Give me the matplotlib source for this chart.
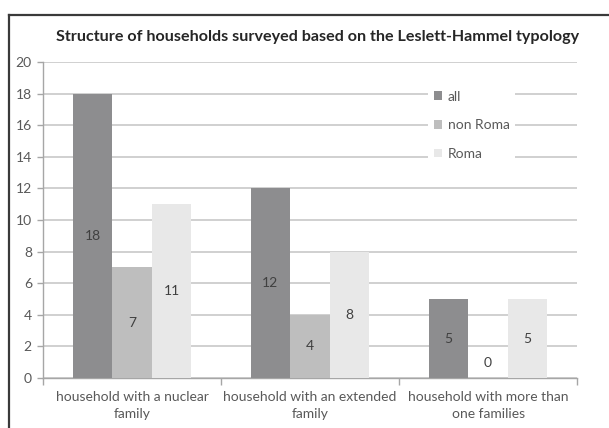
import numpy as np
import matplotlib
matplotlib.use('Agg')
import matplotlib.pyplot as plt
from matplotlib.lines import Line2D

categories = ['household with a nuclear\nfamily',
              'household with an extended\nfamily',
              'household with more than\none families']
series_names = ['all', 'non Roma', 'Roma']
all_vals = [18, 12, 5]
non_roma_vals = [7, 4, 0]
roma_vals = [11, 8, 5]
colors = ['#8d8d8f', '#bebebe', '#e8e8e8']
y_ticks = [0, 2, 4, 6, 8, 10, 12, 14, 16, 18, 20]

plt.rcParams['font.family'] = ['Lato', 'DejaVu Sans']

fig = plt.figure(figsize=(6.09, 4.28), dpi=100)
ax = fig.add_axes([0.0706, 0.1168, 0.877, 0.7383])

# chart frame (only left and top edges visible)
fig.add_artist(Line2D([9/609, 9/609], [0, 1-15/428], color='#3a3a3a', lw=1.6))
fig.add_artist(Line2D([9/609, 1], [1-15/428, 1-15/428], color='#3a3a3a', lw=1.6))

x = np.arange(len(categories))
w = 1/4.5
data = [all_vals, non_roma_vals, roma_vals]
for i, (vals, name, c) in enumerate(zip(data, series_names, colors)):
    bars = ax.bar(x + (i-1)*w, vals, width=w, color=c, label=name, zorder=3)
    for b, v in zip(bars, vals):
        cx = b.get_x() + b.get_width()/2
        if v > 0:
            ax.text(cx, v/2, str(v), ha='center', va='center', fontsize=10, color='#404040', zorder=4)
        else:
            ax.annotate(str(v), (cx, 0), xytext=(0, 11), textcoords='offset points',
                        ha='center', va='center', fontsize=10, color='#404040', zorder=4)

ax.set_xlim(-0.5, len(categories)-0.5)
ax.set_ylim(0, 20)
ax.set_yticks(y_ticks)
ax.yaxis.grid(True, color='#c4c4c4', lw=1.1, zorder=0)
ax.set_axisbelow(True)
ax.tick_params(axis='y', labelsize=10, labelcolor='#595959', color='#a6a6a6', length=4, width=1, pad=4)
ax.set_xticks(x)
ax.set_xticklabels(categories, fontsize=10, color='#595959', linespacing=1.5)
ax.set_xticks(np.arange(len(categories)+1) - 0.5, minor=True)
ax.tick_params(axis='x', which='major', length=0, pad=9)
ax.tick_params(axis='x', which='minor', length=5, color='#a6a6a6', width=1)
for s in ['top', 'right']:
    ax.spines[s].set_visible(False)
for s in ['left', 'bottom']:
    ax.spines[s].set_color('#a6a6a6')
    ax.spines[s].set_linewidth(1)

fig.text(0.521, 1-37/428, 'Structure of households surveyed based on the Leslett-Hammel typology',
         ha='center', va='center', fontsize=11.6, fontweight='bold', color='#262626')

leg = ax.legend(loc='center', bbox_to_anchor=(0.803, 0.8), frameon=True, fontsize=10,
                handlelength=0.6, handleheight=0.6, handletextpad=0.4, labelspacing=1.2,
                borderpad=0.4, borderaxespad=0)
leg.get_frame().set_facecolor('white')
leg.get_frame().set_edgecolor('none')
leg.get_frame().set_alpha(1)
for t in leg.get_texts():
    t.set_color('#595959')

fig.savefig('out.png', dpi=100)
